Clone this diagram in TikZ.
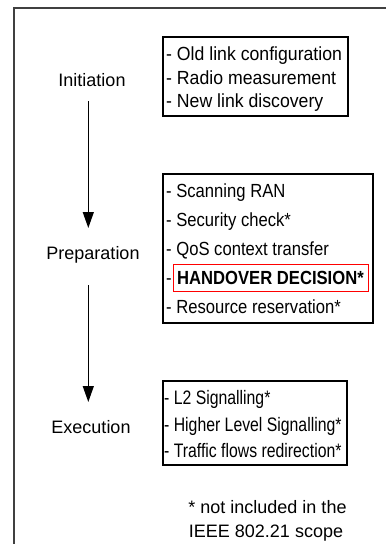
\documentclass[tikz,border=0pt]{standalone}
\usepackage{fontspec}
\setmainfont{Liberation Sans}
\newfontfamily\narrowA[FakeStretch=0.93]{Liberation Sans}
\newfontfamily\narrowB[FakeStretch=0.875]{Liberation Sans}
\newfontfamily\narrowC[FakeStretch=0.81]{Liberation Sans}
\usetikzlibrary{arrows.meta}

\begin{document}
\begin{tikzpicture}[x=1pt,y=-1pt,
  phase/.style={font=\fontsize{18}{20}\selectfont, inner sep=0pt, anchor=base},
  item/.style={inner sep=0pt, anchor=base west},
  itemA/.style={item, font=\narrowA\fontsize{19}{22}\selectfont},
  itemB/.style={item, font=\narrowB\fontsize{19}{22}\selectfont},
  itemC/.style={item, font=\narrowC\fontsize{19.5}{22}\selectfont},
  note/.style={font=\fontsize{18}{20}\selectfont, inner sep=0pt, anchor=base},
  listbox/.style={draw, line width=1.1pt, inner sep=0pt},
  redbox/.style={draw=red, line width=0.9pt, inner sep=0pt},
  flow/.style={line width=1.2pt, -{Triangle[length=16pt,width=11pt]}},
  frame/.style={draw=black!75, line width=2.2pt}]

\useasboundingbox (0,0) rectangle (386,544);

% outer frame (left and top edges)
\draw[frame] (14,544) -- (14,8) -- (386,8);

% phase labels
\node[phase] (init) at (92,86) {Initiation};
\node[phase] (prep) at (93,259) {Preparation};
\node[phase] (exec) at (91,433) {Execution};

% flow between phases
\coordinate (a1s) at (88.3,101);
\coordinate (a1e) at (88.3,228);
\coordinate (a2s) at (88.3,285);
\coordinate (a2e) at (88.3,402);
\draw[flow] (a1s) -- (a1e);
\draw[flow] (a2s) -- (a2e);

% initiation tasks
\node[listbox, minimum width=185pt, minimum height=79pt] (box1) at (255.5,76.5) {};
\node[itemA] (i1) at (166,60) {- Old link configuration};
\node[itemA] (i2) at (166,84) {- Radio measurement};
\node[itemA] (i3) at (166,107.7) {- New link discovery};

% preparation tasks
\node[listbox, minimum width=210pt, minimum height=149pt] (box2) at (268,248.5) {};
\node[itemB] (p1) at (166,197) {- Scanning RAN};
\node[itemB] (p2) at (166,226) {- Security check*};
\node[itemB] (p3) at (166,255) {- QoS context transfer};
\node[itemB] (p4) at (166,284) {-};
\node[itemB, font=\narrowB\bfseries\fontsize{19}{22}\selectfont] (hd) at (177,284) {HANDOVER DECISION*};
\node[redbox, minimum width=195pt, minimum height=27pt] (hdframe) at (270.5,277.5) {};
\node[itemB] (p5) at (166,313) {- Resource reservation*};

% execution tasks
\node[listbox, minimum width=184pt, minimum height=84pt] (box3) at (255,423) {};
\node[itemC] (e1) at (164,404) {- L2 Signalling*};
\node[itemC] (e2) at (164,431.7) {- Higher Level Signalling*};
\node[itemC] (e3) at (164,457.3) {- Traffic flows redirection*};

% footnote
\node[note] (n1) at (267.5,513) {* not included in the};
\node[note] (n2) at (266,537) {IEEE 802.21 scope};
\end{tikzpicture}
\end{document}
